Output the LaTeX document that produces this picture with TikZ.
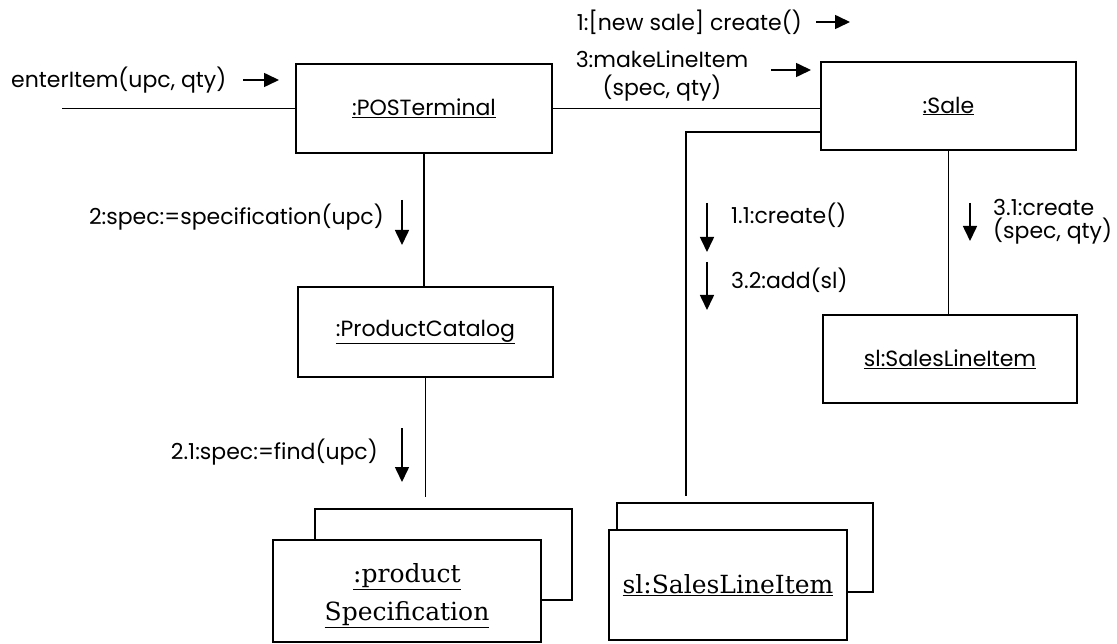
\documentclass[tikz,border=0pt]{standalone}
\usepackage{fontspec}
\newfontfamily\gsans{Poppins}
\newfontfamily\oserif{DejaVu Serif}
\usetikzlibrary{arrows.meta}

\tikzset{
  obj/.style={draw, line width=1.5pt, fill=white, inner sep=0pt, anchor=center},
  link/.style={line width=1.4pt},
  msg/.style={-{Triangle[length=15pt,width=14pt]}, line width=1.6pt},
  lbl/.style={font=\gsans\fontsize{22}{23}\selectfont, inner sep=0pt},
  olbl/.style={font=\gsans\fontsize{22}{23}\selectfont},
  slbl/.style={font=\oserif\fontsize{25}{38}\selectfont, align=center},
}

\begin{document}
\begin{tikzpicture}[x=1pt, y=-1pt]
  \useasboundingbox (0,0) rectangle (1117,644);

  % objects
  \node[obj, olbl, minimum width=256pt, minimum height=89pt] (pos) at (424,108.5) {\underline{:POSTerminal}};
  \node[obj, olbl, minimum width=255pt, minimum height=88pt] (sale) at (948.5,106) {\underline{:Sale}};
  \node[obj, olbl, minimum width=255pt, minimum height=90pt] (pc) at (425.5,332) {\underline{:ProductCatalog}};
  \node[obj, olbl, minimum width=254pt, minimum height=88pt] (sli) at (950,359) {\underline{sl:SalesLineItem}};

  % multi-objects (back card first, front card on top)
  \node[obj, minimum width=257pt, minimum height=91pt] (psback) at (443.5,554.5) {};
  \node[obj, minimum width=268pt, minimum height=102pt] (psfront) at (407,591) {};
  \node[slbl, anchor=center] (pstext) at (407,596) {\underline{:product}\\\underline{Specification}};
  \node[obj, minimum width=256pt, minimum height=89pt] (slback) at (745,547.5) {};
  \node[obj, slbl, minimum width=238pt, minimum height=110pt] (slfront) at (728,585) {\underline{sl:SalesLineItem}};

  % links
  \coordinate (entry) at (62,0);
  \draw[link] (entry |- pos.west) -- (pos.west);
  \draw[link] (pos.east) -- (pos.east -| sale.west);
  \draw[link] (pos.south) -- (pos.south |- pc.north);
  \draw[link, shorten >=11pt] (pc.south) -- (pc.south |- psback.north);
  \draw[link] (sale.south) -- (sale.south |- sli.north);
  \coordinate (corner) at (686,132);
  \draw[link, shorten >=6pt] (sale.west |- corner) -- (corner) -- (corner |- slback.north);

  % messages
  \node[lbl, anchor=west] (m0) at (11,80) {enterItem(upc, qty)};
  \draw[msg] (243,80) -- (279,80);

  \node[lbl, anchor=east] (m1) at (802,22) {1:[new sale] create()};
  \draw[msg] (816,22) -- (850,22);

  \node[lbl, anchor=center, align=center, font=\gsans\fontsize{22}{28}\selectfont] (m3) at (662,76) {3:makeLineItem\\(spec, qty)};
  \draw[msg] (771,70) -- (811,70);

  \node[lbl, anchor=east] (m2) at (384,217) {2:spec:=specification(upc)};
  \draw[msg] (402,200) -- (402,245);

  \node[lbl, anchor=east] (m21) at (378,452) {2.1:spec:=find(upc)};
  \draw[msg] (402,428) -- (402,482);

  \node[lbl, anchor=west] (m11) at (731,215) {1.1:create()};
  \draw[msg] (707,203) -- (707,252);

  \node[lbl, anchor=west] (m32) at (731,280) {3.2:add(sl)};
  \draw[msg] (707,262) -- (707,310);

  \node[lbl, anchor=west, align=left] (m31) at (993,222) {3.1:create\\(spec, qty)};
  \draw[msg] (970,203) -- (970,241);
\end{tikzpicture}
\end{document}
